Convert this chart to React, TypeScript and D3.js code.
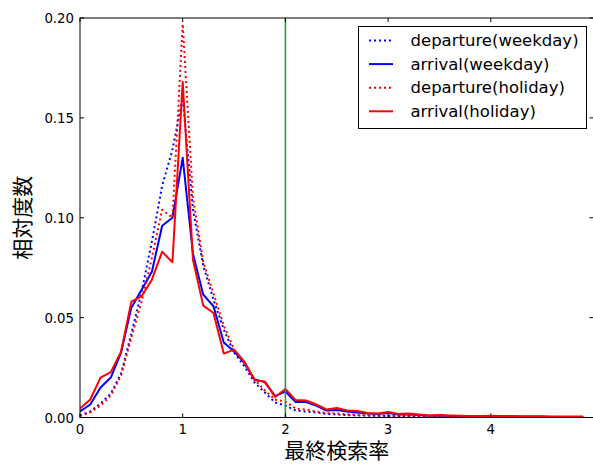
import React from 'react'
import * as d3 from 'd3'

// bins of the final search rate
const rates = [
  0, 0.1, 0.2, 0.3, 0.4, 0.5, 0.6, 0.7, 0.8, 0.9,
  1.0, 1.1, 1.2, 1.3, 1.4, 1.5, 1.6, 1.7, 1.8, 1.9,
  2.0, 2.1, 2.2, 2.3, 2.4, 2.5, 2.6, 2.7, 2.8, 2.9,
  3.0, 3.1, 3.2, 3.3, 3.4, 3.5, 3.6, 3.7, 3.8, 3.9,
  4.0, 4.1, 4.2, 4.3, 4.4, 4.5, 4.6, 4.7, 4.8, 4.9
]

const departureWeekday = [
  0.001, 0.003, 0.007, 0.012, 0.022, 0.042, 0.063, 0.088, 0.116, 0.134,
  0.160, 0.104, 0.076, 0.059, 0.044, 0.0325, 0.0257, 0.0175, 0.0125, 0.0075,
  0.006, 0.0035, 0.003, 0.0025, 0.0018, 0.0015, 0.0012, 0.001, 0.0009, 0.0008,
  0.0008, 0.0006, 0.0006, 0.0005, 0.0004, 0.0004, 0.0004, 0.0003, 0.0003, 0.0003,
  0.0003, 0.0002, 0.0002, 0.0002, 0.0002, 0.0002, 0.0002, 0.0002, 0.0002, 0.0002
]

const arrivalWeekday = [
  0.003, 0.0065, 0.015, 0.02, 0.0325, 0.055, 0.064, 0.073, 0.096, 0.1,
  0.13, 0.082, 0.0615, 0.0557, 0.0375, 0.033, 0.0275, 0.019, 0.0177, 0.0107,
  0.013, 0.0077, 0.0077, 0.006, 0.0035, 0.0037, 0.003, 0.0025, 0.002, 0.0017,
  0.0022, 0.0015, 0.0015, 0.0012, 0.0009, 0.001, 0.0008, 0.0007, 0.0007, 0.0006,
  0.0006, 0.0005, 0.0005, 0.0004, 0.0004, 0.0004, 0.0003, 0.0003, 0.0003, 0.0003
]

const departureHoliday = [
  0.0008, 0.0025, 0.006, 0.011, 0.021, 0.04, 0.058, 0.08, 0.104, 0.1,
  0.197, 0.11, 0.078, 0.062, 0.046, 0.034, 0.027, 0.019, 0.0135, 0.009,
  0.008, 0.0045, 0.004, 0.003, 0.0022, 0.002, 0.0016, 0.0013, 0.0011, 0.001,
  0.001, 0.0008, 0.0008, 0.0007, 0.0006, 0.0006, 0.0005, 0.0005, 0.0004, 0.0004,
  0.0004, 0.0003, 0.0003, 0.0003, 0.0003, 0.0003, 0.0002, 0.0002, 0.0002, 0.0002
]

const arrivalHoliday = [
  0.0045, 0.009, 0.02, 0.0227, 0.033, 0.058, 0.0607, 0.069, 0.083, 0.0777,
  0.168, 0.079, 0.056, 0.0523, 0.032, 0.034, 0.028, 0.0187, 0.018, 0.0103,
  0.0143, 0.0087, 0.0085, 0.0065, 0.004, 0.0048, 0.0035, 0.0032, 0.0023, 0.002,
  0.0027, 0.0018, 0.002, 0.0015, 0.001, 0.0012, 0.001, 0.0009, 0.0008, 0.0008,
  0.0009, 0.0007, 0.0007, 0.0006, 0.0006, 0.0006, 0.0005, 0.0005, 0.0005, 0.0005
]

const xTicks = [0, 1, 2, 3, 4]
const yTicks = [0, 0.05, 0.1, 0.15, 0.2]
const threshold = 2

const series = [
  { name: 'departure(weekday)', values: departureWeekday, color: '#0000ff', dash: '2,3' },
  { name: 'arrival(weekday)', values: arrivalWeekday, color: '#0000ff', dash: null },
  { name: 'departure(holiday)', values: departureHoliday, color: '#ff0000', dash: '2,3' },
  { name: 'arrival(holiday)', values: arrivalHoliday, color: '#ff0000', dash: null }
]

const width = 593
const height = 464
const left = 80
const right = 593.5
const top = 18
const bottom = 417.5
const font = 'DejaVu Sans, sans-serif'
const cjk = '"Noto Sans CJK JP", sans-serif'

export default function App() {
  const x = d3.scaleLinear().domain([0, 5]).range([left, right])
  const y = d3.scaleLinear().domain([0, 0.2]).range([bottom, top])

  const line = d3.line<number>()
    .x((d, i) => x(rates[i]))
    .y(d => y(d))

  return (
    <svg width={width} height={height} style={{ position: 'absolute', left: 0, top: 0 }}>
      <rect x={0} y={0} width={width} height={height} fill='#fff' />
      <defs>
        <clipPath id='plot'>
          <rect x={left} y={top} width={right - left} height={bottom - top} />
        </clipPath>
      </defs>
      <g clipPath='url(#plot)'>
        {series.map(s => (
          <path key={s.name} d={line(s.values) || ''} fill='none' stroke={s.color}
            strokeWidth={2} strokeDasharray={s.dash || undefined} strokeLinejoin='round' />
        ))}
        <line x1={x(threshold)} x2={x(threshold)} y1={top} y2={bottom} stroke='#2f9a2f' strokeWidth={1.6} />
      </g>
      {/* frame */}
      <rect x={left} y={top} width={right - left} height={bottom - top} fill='none' stroke='#000' strokeWidth={1} />
      {xTicks.map(t => (
        <g key={'x' + t}>
          <line x1={x(t)} x2={x(t)} y1={bottom} y2={bottom - 4} stroke='#000' />
          <line x1={x(t)} x2={x(t)} y1={top} y2={top + 4} stroke='#000' />
          <text x={x(t)} y={433.5} textAnchor='middle' fontFamily={font} fontSize={13.3}>{t}</text>
        </g>
      ))}
      {yTicks.map(t => (
        <g key={'y' + t}>
          <line x1={left} x2={left + 4} y1={y(t)} y2={y(t)} stroke='#000' />
          <line x1={right} x2={right - 4} y1={y(t)} y2={y(t)} stroke='#000' />
          <text x={74} y={y(t) + 5} textAnchor='end' fontFamily={font} fontSize={13.3}>{t.toFixed(2)}</text>
        </g>
      ))}
      <text x={(left + right) / 2} y={457.5} textAnchor='middle' fontFamily={cjk} fontSize={21}>最終検索率</text>
      <text transform={`translate(30,${(top + bottom) / 2}) rotate(-90)`} textAnchor='middle'
        fontFamily={cjk} fontSize={21}>相対度数</text>
      {/* legend */}
      <g>
        <rect x={358.5} y={26.5} width={228} height={102} fill='#fff' stroke='#000' strokeWidth={1} />
        {series.map((s, i) => (
          <g key={'l' + s.name} transform={`translate(0,${40.5 + i * 23.6})`}>
            <line x1={369} x2={393} y1={0} y2={0} stroke={s.color} strokeWidth={2}
              strokeDasharray={s.dash || undefined} />
            <text x={410.5} y={5.5} fontFamily={font} fontSize={16.5}>{s.name}</text>
          </g>
        ))}
      </g>
    </svg>
  )
}
